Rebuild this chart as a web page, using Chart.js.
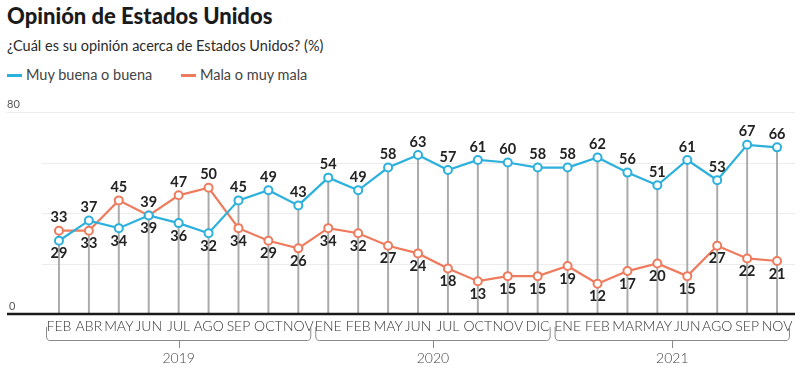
<!DOCTYPE html>
<html>
<head>
<meta charset="utf-8">
<script src="https://cdn.jsdelivr.net/npm/chart.js@4.4.0/dist/chart.umd.min.js"></script>
<style>
  body { margin: 0; background: #fff; width: 800px; height: 386px; overflow: hidden; font-family: Lato, sans-serif; }
  .title { position: absolute; left: 7px; top: 2px; font-size: 22px; font-weight: 900; color: #1b1b1b; }
  .subtitle { position: absolute; left: 7px; top: 37px; font-size: 14.5px; color: #2a2a2a; }
  .legend { position: absolute; top: 66px; font-size: 14.5px; color: #444; }
  .legend span { display: inline-block; width: 15px; height: 3px; vertical-align: middle; margin-right: 4px; position: relative; top: -1px; }
  #wrap { position: absolute; left: 0; top: 90px; width: 800px; height: 296px; }
</style>
</head>
<body>
<div class="title">Opinión de Estados Unidos</div>
<div class="subtitle">¿Cuál es su opinión acerca de Estados Unidos? (%)</div>
<div class="legend" style="left:7px"><span style="background:#2cb0dc"></span>Muy buena o buena</div>
<div class="legend" style="left:181px"><span style="background:#ee7b5e"></span>Mala o muy mala</div>
<div id="wrap"><canvas id="chart" width="800" height="296"></canvas></div>
<script>
const months = ['FEB', 'ABR', 'MAY', 'JUN', 'JUL', 'AGO', 'SEP', 'OCT', 'NOV',
                'ENE', 'FEB', 'MAY', 'JUN', 'JUL', 'OCT', 'NOV', 'DIC',
                'ENE', 'FEB', 'MAR', 'MAY', 'JUN', 'AGO', 'SEP', 'NOV'];
const years = ['2019', '2020', '2021'];
const monthsPerYear = [9, 8, 8];
const goodValues = [29, 37, 34, 39, 36, 32, 45, 49, 43,
                    54, 49, 58, 63, 57, 61, 60, 58,
                    58, 62, 56, 51, 61, 53, 67, 66];
const badValues = [33, 33, 45, 39, 47, 50, 34, 29, 26,
                   34, 32, 27, 24, 18, 13, 15, 15,
                   19, 12, 17, 20, 15, 27, 22, 21];
const gridValues = [20, 40, 60, 80];
const axisLabels = [0, 80];

const BLUE = '#2cb0dc';
const ORANGE = '#ee7b5e';

// stems go from the baseline up to the higher of the two points
const stemValues = goodValues.map((v, i) => Math.max(v, badValues[i]));

const decorPlugin = {
    id: 'decor',
    beforeDatasetsDraw(chart) {
        const ctx = chart.ctx;
        const y = chart.scales.y;
        const right = chart.chartArea.right + 3;
        ctx.save();
        ctx.strokeStyle = '#ececec';
        ctx.lineWidth = 1;
        gridValues.forEach(v => {
            const py = Math.round(y.getPixelForValue(v)) + 0.5;
            ctx.beginPath();
            ctx.moveTo(v === 80 ? 7 : 42, py);
            ctx.lineTo(right, py);
            ctx.stroke();
        });
        ctx.fillStyle = '#555';
        ctx.font = '11px Lato';
        ctx.textAlign = 'left';
        ctx.textBaseline = 'bottom';
        axisLabels.forEach(v => {
            ctx.fillText(String(v), v === 0 ? 9 : 7, y.getPixelForValue(v) - 2);
        });
        ctx.restore();
    },
    afterDatasetsDraw(chart) {
        const ctx = chart.ctx;
        const x = chart.scales.x;
        const y = chart.scales.y;
        const area = chart.chartArea;
        ctx.save();

        // baseline
        ctx.strokeStyle = '#1a1a1a';
        ctx.lineWidth = 2.5;
        const by = y.getPixelForValue(0);
        ctx.beginPath();
        ctx.moveTo(7, by);
        ctx.lineTo(area.right + 3, by);
        ctx.stroke();

        // value labels
        ctx.font = 'bold 14.5px Lato';
        ctx.fillStyle = '#222';
        ctx.textAlign = 'center';
        ctx.textBaseline = 'middle';
        goodValues.forEach((g, i) => {
            const b = badValues[i];
            const px = x.getPixelForValue(i);
            const gy = y.getPixelForValue(g);
            const oy = y.getPixelForValue(b);
            const goodUp = g >= b;
            ctx.fillText(String(g), px, goodUp ? gy - 13 : gy + 13);
            ctx.fillText(String(b), px, goodUp ? oy + 13 : oy - 13);
        });

        // year brackets
        const step = x.getPixelForValue(1) - x.getPixelForValue(0);
        const top = area.bottom + 13;
        const line = area.bottom + 26;
        const r = 4;
        let start = 0;
        ctx.strokeStyle = '#8a8a8a';
        ctx.lineWidth = 1;
        ctx.fillStyle = '#444';
        ctx.font = '300 14px Lato';
        years.forEach((yr, k) => {
            const end = start + monthsPerYear[k] - 1;
            const x0 = x.getPixelForValue(start) - step / 2 + 2;
            const x1 = x.getPixelForValue(end) + step / 2 - 2;
            const cx = (x0 + x1) / 2;
            ctx.beginPath();
            ctx.moveTo(x0 + 0.5, top);
            ctx.lineTo(x0 + 0.5, line - r);
            ctx.quadraticCurveTo(x0 + 0.5, line + 0.5, x0 + r, line + 0.5);
            ctx.lineTo(x1 - r, line + 0.5);
            ctx.quadraticCurveTo(x1 - 0.5, line + 0.5, x1 - 0.5, line - r);
            ctx.lineTo(x1 - 0.5, top);
            ctx.moveTo(Math.round(cx) + 0.5, line);
            ctx.lineTo(Math.round(cx) + 0.5, line + 8);
            ctx.stroke();
            ctx.fillText(yr, cx, line + 18);
            start = end + 1;
        });
        ctx.restore();
    }
};

const ctx = document.getElementById('chart').getContext('2d');
new Chart(ctx, {
    data: {
        labels: months,
        datasets: [
            {
                type: 'line',
                data: goodValues,
                borderColor: BLUE,
                borderWidth: 2.2,
                pointRadius: 4,
                pointBorderWidth: 2,
                pointBackgroundColor: '#fff',
                pointBorderColor: BLUE,
                order: 1
            },
            {
                type: 'line',
                data: badValues,
                borderColor: ORANGE,
                borderWidth: 2.2,
                pointRadius: 4,
                pointBorderWidth: 2,
                pointBackgroundColor: '#fff',
                pointBorderColor: ORANGE,
                order: 2
            },
            {
                type: 'bar',
                data: stemValues,
                backgroundColor: '#aaaaaa',
                barThickness: 1.3,
                order: 10
            }
        ]
    },
    options: {
        responsive: false,
        animation: false,
        layout: { padding: { left: 44, right: 8, top: 22, bottom: 0 } },
        plugins: {
            legend: { display: false },
            tooltip: { enabled: false }
        },
        scales: {
            x: {
                offset: true,
                grid: { display: false, drawTicks: false },
                border: { display: false },
                ticks: {
                    autoSkip: false,
                    maxRotation: 0,
                    padding: 4,
                    color: '#333',
                    font: { family: 'Lato', size: 14, weight: '300' }
                },
                afterFit(scale) { scale.height = 72; }
            },
            y: {
                display: false,
                min: 0,
                max: 80
            }
        }
    },
    plugins: [decorPlugin]
});
</script>
</body>
</html>
